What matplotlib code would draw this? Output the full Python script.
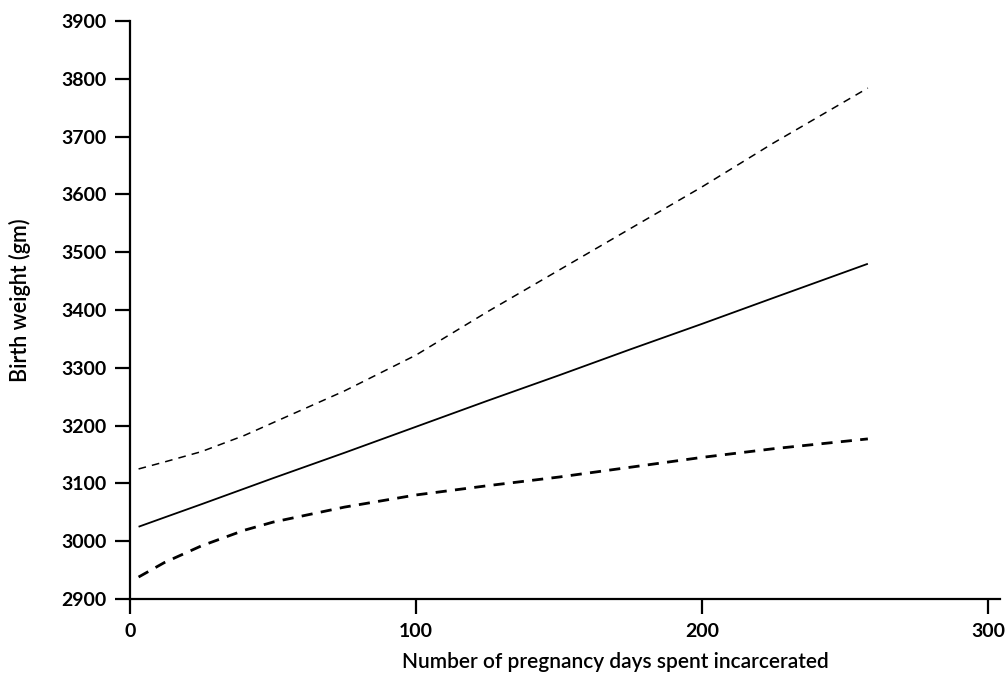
import matplotlib
matplotlib.use("Agg")
import matplotlib.pyplot as plt

days = [3, 12, 25, 40, 50, 75, 100, 125, 150, 175, 200, 225, 258]
fit = [3025, 3041, 3064, 3091, 3109, 3153, 3198, 3243, 3287, 3332, 3376, 3421, 3480]
upper = [3125, 3137, 3155, 3183, 3205, 3260, 3322, 3397, 3469, 3541, 3613, 3689, 3784]
lower = [2938, 2963, 2992, 3019, 3033, 3059, 3080, 3096, 3111, 3128, 3145, 3160, 3177]

xticks = [0, 100, 200, 300]
yticks = [2900, 3000, 3100, 3200, 3300, 3400, 3500, 3600, 3700, 3800, 3900]

plt.rcParams['font.family'] = ['Lato', 'DejaVu Sans']

fig = plt.figure(figsize=(10.06, 6.79), dpi=100)
ax = fig.add_axes([130/1006, 1-599/679, 870/1006, 578/679])

ax.plot(days, fit, color='black', lw=1.3, solid_capstyle='butt')
ax.plot(days, upper, color='black', lw=1.1, dashes=(5, 4))
ax.plot(days, lower, color='black', lw=2.0, dashes=(4, 3))

ax.set_xlim(0, 304.2)
ax.set_ylim(2900, 3900)
ax.set_xticks(xticks)
ax.set_yticks(yticks)
for s in ['top', 'right']:
    ax.spines[s].set_visible(False)
for s in ['left', 'bottom']:
    ax.spines[s].set_linewidth(1.6)
ax.tick_params(direction='out', length=11, width=1.6, labelsize=14, pad=6)
for lab in ax.get_xticklabels() + ax.get_yticklabels():
    lab.set_fontweight('bold')

fig.text(615/1006, 1-662/679, 'Number of pregnancy days spent incarcerated',
         ha='center', va='center', fontsize=15, fontweight='semibold')
fig.text(20/1006, 1-300/679, 'Birth weight (gm)', rotation=90,
         ha='center', va='center', fontsize=15.5, fontweight='semibold')

fig.savefig('out.png', dpi=100)
